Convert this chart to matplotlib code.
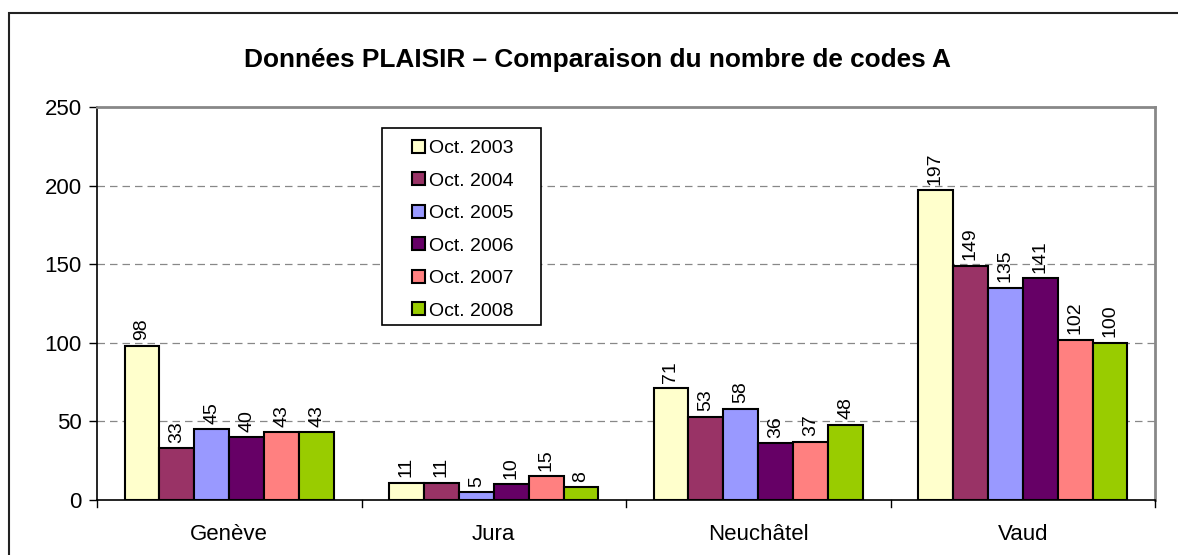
import matplotlib
matplotlib.use("Agg")
import matplotlib.pyplot as plt
import numpy as np
from matplotlib.patches import Rectangle

cantons = ["Genève", "Jura", "Neuchâtel", "Vaud"]
periods = ["Oct. 2003", "Oct. 2004", "Oct. 2005", "Oct. 2006", "Oct. 2007", "Oct. 2008"]
oct2003 = [98, 11, 71, 197]
oct2004 = [33, 11, 53, 149]
oct2005 = [45, 5, 58, 135]
oct2006 = [40, 10, 36, 141]
oct2007 = [43, 15, 37, 102]
oct2008 = [43, 8, 48, 100]
series = [oct2003, oct2004, oct2005, oct2006, oct2007, oct2008]
colors = ["#FFFFCC", "#993366", "#9999FF", "#660066", "#FF8080", "#99CC00"]

plt.rcParams["font.family"] = ["Liberation Sans", "DejaVu Sans"]

W, H = 1178, 555
fig = plt.figure(figsize=(W / 100, H / 100), dpi=100)

# outer chart frame (runs off the right and bottom edges)
fig.patches.append(Rectangle((8.5 / W, -0.2), 1.2, (H - 13) / H + 0.2, transform=fig.transFigure,
                             fill=False, edgecolor="#222222", linewidth=1.5))

left, right, top, bottom = 97, 1155, 107, 500
ax = fig.add_axes([left / W, 1 - bottom / H, (right - left) / W, (bottom - top) / H])

x = np.arange(len(cantons))
bw = 0.132
for i, (vals, lab, col) in enumerate(zip(series, periods, colors)):
    pos = x + (i - 2.5) * bw
    ax.bar(pos, vals, width=bw, color=col, edgecolor="black", linewidth=1.5,
           label=lab, zorder=3)
    for px, v in zip(pos, vals):
        ax.annotate(str(v), (px, v), xytext=(0, 4), textcoords="offset points",
                    rotation=90, ha="center", va="bottom", fontsize=14, zorder=4)

ax.set_xlim(-0.5, 3.5)
ax.set_ylim(0, 250)
ax.set_yticks(range(0, 251, 50))
ax.tick_params(axis="y", labelsize=16, length=6, width=1, direction="out", pad=5)
ax.set_xticks(x)
ax.set_xticklabels(cantons, fontsize=16)
ax.tick_params(axis="x", length=0, pad=17)
for b in np.arange(-0.5, 3.6, 1.0):
    ax.plot([b, b], [0, -4.5], color="black", linewidth=1, clip_on=False, zorder=5)

for yv in [50, 100, 150, 200]:
    ax.axhline(yv, color="#888888", linestyle=(0, (6, 4)), linewidth=0.9, zorder=1)

ax.spines["left"].set_color("black")
ax.spines["bottom"].set_color("black")
ax.spines["left"].set_linewidth(1.2)
ax.spines["bottom"].set_linewidth(1.2)
ax.spines["top"].set_color("#888888")
ax.spines["right"].set_color("#888888")
ax.spines["top"].set_linewidth(2)
ax.spines["right"].set_linewidth(2)

# legend box drawn separately so its padding matches the original
ax.add_patch(Rectangle((382 / W, 1 - 325 / H), (541 - 382) / W, (325 - 128) / H,
                       transform=fig.transFigure, facecolor="white", edgecolor="black",
                       linewidth=1.2, zorder=5, clip_on=False))
leg = ax.legend(loc="upper left", bbox_to_anchor=(412 / W, 1 - 140 / H),
                bbox_transform=fig.transFigure,
                fontsize=14, frameon=False,
                handlelength=0.65, handleheight=0.65, handletextpad=0.2, labelspacing=0.78,
                borderpad=0, borderaxespad=0)
leg.set_zorder(6)
for h in leg.legend_handles:
    h.set_linewidth(1.5)

fig.text(0.5 + 9 / W, 1 - 60 / H, "Données PLAISIR – Comparaison du nombre de codes A",
         ha="center", va="center", fontsize=18.9, fontweight="bold")

fig.savefig("out.png", dpi=100)
